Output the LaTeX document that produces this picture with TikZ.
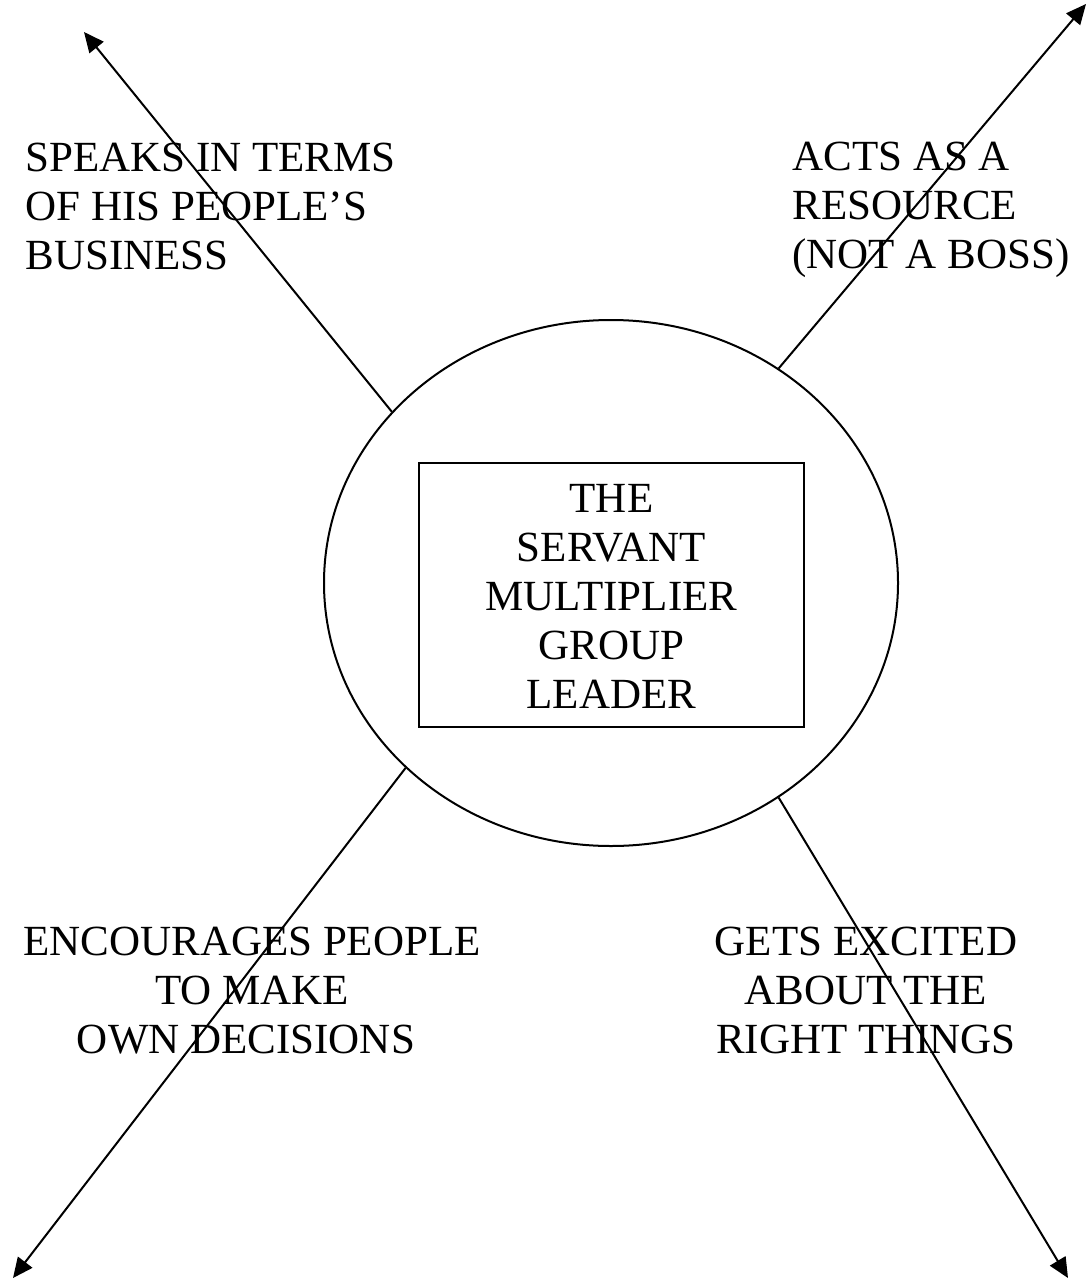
\documentclass[tikz,border=0pt]{standalone}
\usepackage{fontspec}
\setmainfont{Liberation Serif}
\usetikzlibrary{arrows.meta, shapes.geometric}

\begin{document}
\begin{tikzpicture}[x=0.5pt, y=-0.5pt,
	txt/.style={font=\fontsize{21.5}{24.5}\selectfont, inner sep=0pt},
	spoke/.style={line width=1pt, -{Triangle[length=10pt, width=9pt]}}]
	\useasboundingbox (0,0) rectangle (1088,1279);
	% centre: ellipse with the boxed title
	\node[draw, line width=1pt, ellipse, inner sep=0pt, minimum width=287pt, minimum height=263pt] (hub) at (611,583) {};
	\node[draw, line width=0.8pt, txt, align=center, minimum width=192.5pt, minimum height=132pt] (core) at (611.5,595) {\rule{0pt}{15.7pt}THE\\SERVANT\\MULTIPLIER\\GROUP\\LEADER};
	% arrow tips
	\coordinate (nw) at (84,32);
	\coordinate (ne) at (1086,4);
	\coordinate (sw) at (13,1278);
	\coordinate (se) at (1068,1278);
	\draw[spoke] (hub.142) -- (nw);
	\draw[spoke] (hub.52) -- (ne);
	\draw[spoke] (hub.222) -- (sw);
	\draw[spoke] (hub.308) -- (se);
	% the four labels (base = last line)
	\node[txt, align=left, anchor=base west] (speaks) at (25,269) {SPEAKS IN TERMS\\OF HIS PEOPLE’S\\BUSINESS};
	\node[txt, align=left, anchor=base west] (acts) at (792,268) {ACTS AS A\\RESOURCE\\(NOT A BOSS)};
	\node[txt, align=center, anchor=base] (urges) at (252,1053) {ENCOURAGES PEOPLE\\TO MAKE\hspace*{0.55em}\\OWN DECISIONS\hspace*{0.28em}};
	\node[txt, align=center, anchor=base] (excites) at (866,1053) {GETS EXCITED\\ABOUT THE\hspace*{0.37em}\\RIGHT THINGS};
\end{tikzpicture}
\end{document}
